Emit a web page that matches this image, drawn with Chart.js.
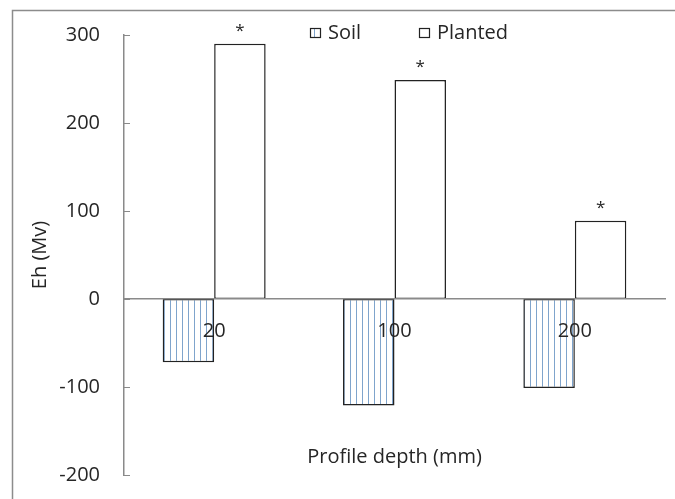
<!DOCTYPE html>
<html>
<head>
<meta charset="utf-8">
<script src="https://cdn.jsdelivr.net/npm/chart.js@4"></script>
<style>
  html, body { margin: 0; padding: 0; background: #ffffff; }
  #wrap { width: 675px; height: 499px; position: relative; }
</style>
</head>
<body>
<div id="wrap"><canvas id="chart" width="675" height="499"></canvas></div>
<script>
// Redox potential (Eh) by profile depth
const depths = ['20', '100', '200'];
const soilEh = [-72, -121, -101];
const plantedEh = [290, 249, 89];
const plantedMarks = ['*', '*', '*'];
const seriesNames = ['Soil', 'Planted'];
const yMin = -200;
const yMax = 300;
const yStep = 100;

const FONT = '"Open Sans", "Segoe UI", sans-serif';
const TEXT = '#262626';
const AXIS = '#8a8a8a';
const EDGE = '#222222';

// vertical light-blue hatching used for the Soil bars
function makeStripes() {
  const tile = document.createElement('canvas');
  tile.width = 6; tile.height = 6;
  const g = tile.getContext('2d');
  g.fillStyle = '#ffffff';
  g.fillRect(0, 0, 6, 6);
  g.fillStyle = '#7fa4cc';
  g.fillRect(2, 0, 1, 6);
  return document.createElement('canvas').getContext('2d').createPattern(tile, 'repeat');
}
const soilFill = makeStripes();

// outer frame of the figure
const framePlugin = {
  id: 'frame',
  beforeDraw(chart) {
    const ctx = chart.ctx;
    ctx.save();
    ctx.strokeStyle = '#8c8c8c';
    ctx.lineWidth = 1.5;
    ctx.beginPath();
    ctx.moveTo(12.5, chart.height);
    ctx.lineTo(12.5, 10.5);
    ctx.lineTo(chart.width, 10.5);
    ctx.stroke();
    ctx.restore();
  }
};

// small inward tick marks on the value axis
const innerTicks = {
  id: 'innerTicks',
  afterDraw(chart) {
    const y = chart.scales.y;
    const ctx = chart.ctx;
    const x0 = chart.chartArea.left;
    ctx.save();
    ctx.strokeStyle = AXIS;
    ctx.lineWidth = 1;
    y.ticks.forEach(t => {
      const py = Math.round(y.getPixelForValue(t.value)) + 0.5;
      ctx.beginPath();
      ctx.moveTo(x0, py);
      ctx.lineTo(x0 + 6, py);
      ctx.stroke();
    });
    ctx.restore();
  }
};

// significance marks above the Planted bars
const starMarks = {
  id: 'starMarks',
  afterDatasetsDraw(chart) {
    const meta = chart.getDatasetMeta(1);
    const ctx = chart.ctx;
    ctx.save();
    ctx.fillStyle = TEXT;
    ctx.font = '17px ' + FONT;
    ctx.textAlign = 'center';
    ctx.textBaseline = 'alphabetic';
    meta.data.forEach((bar, i) => {
      ctx.fillText(plantedMarks[i], bar.x, bar.y - 8);
    });
    ctx.restore();
  }
};

// legend drawn inside the plot area
const insideLegend = {
  id: 'insideLegend',
  afterDraw(chart) {
    const ctx = chart.ctx;
    const starts = [310, 419];
    const midY = 33;
    ctx.save();
    ctx.font = '20px ' + FONT;
    ctx.textBaseline = 'middle';
    ctx.textAlign = 'left';
    chart.data.datasets.forEach((ds, i) => {
      const x = starts[i];
      ctx.fillStyle = ds.backgroundColor;
      ctx.fillRect(x, midY - 5, 11, 10);
      ctx.strokeStyle = EDGE;
      ctx.lineWidth = 1.2;
      ctx.strokeRect(x + 0.5, midY - 4.5, 10, 9);
      ctx.fillStyle = TEXT;
      ctx.fillText(ds.label, x + 18, midY);
    });
    ctx.restore();
  }
};

new Chart(document.getElementById('chart'), {
  type: 'bar',
  data: {
    labels: depths,
    datasets: [
      {
        label: seriesNames[0],
        data: soilEh,
        backgroundColor: soilFill,
        borderColor: EDGE,
        borderWidth: 1.5,
        borderSkipped: false
      },
      {
        label: seriesNames[1],
        data: plantedEh,
        backgroundColor: '#ffffff',
        borderColor: EDGE,
        borderWidth: 1.5,
        borderSkipped: false
      }
    ]
  },
  options: {
    responsive: false,
    animation: false,
    devicePixelRatio: 1,
    layout: { padding: { top: 35, bottom: 24, left: 0, right: 10 } },
    datasets: {
      bar: { categoryPercentage: 0.571, barPercentage: 1.0 }
    },
    plugins: {
      legend: { display: false },
      tooltip: { enabled: false },
      title: { display: false }
    },
    scales: {
      x: {
        position: { y: 0 },
        grid: { display: false, drawTicks: false },
        border: { display: true, color: AXIS, width: 1.5, z: 1 },
        ticks: {
          z: 1,
          color: TEXT,
          font: { family: FONT, size: 20 },
          padding: 20,
          maxRotation: 0
        },
        title: {
          display: true,
          text: 'Profile depth (mm)',
          color: TEXT,
          font: { family: FONT, size: 20 },
          padding: { top: 82, bottom: 0 }
        }
      },
      y: {
        min: yMin,
        max: yMax,
        grid: { display: false, drawTicks: false },
        border: { display: true, color: AXIS, width: 1.5 },
        ticks: {
          stepSize: yStep,
          color: TEXT,
          font: { family: FONT, size: 20 },
          padding: 24
        },
        title: {
          display: true,
          text: 'Eh (Mv)',
          color: TEXT,
          font: { family: FONT, size: 20 },
          padding: { top: 28, bottom: 0 }
        },
        afterFit(scale) {
          scale.width = 124;
          scale.paddingTop = 0;
          scale.paddingBottom = 0;
        }
      }
    }
  },
  plugins: [framePlugin, innerTicks, starMarks, insideLegend]
});
</script>
</body>
</html>
